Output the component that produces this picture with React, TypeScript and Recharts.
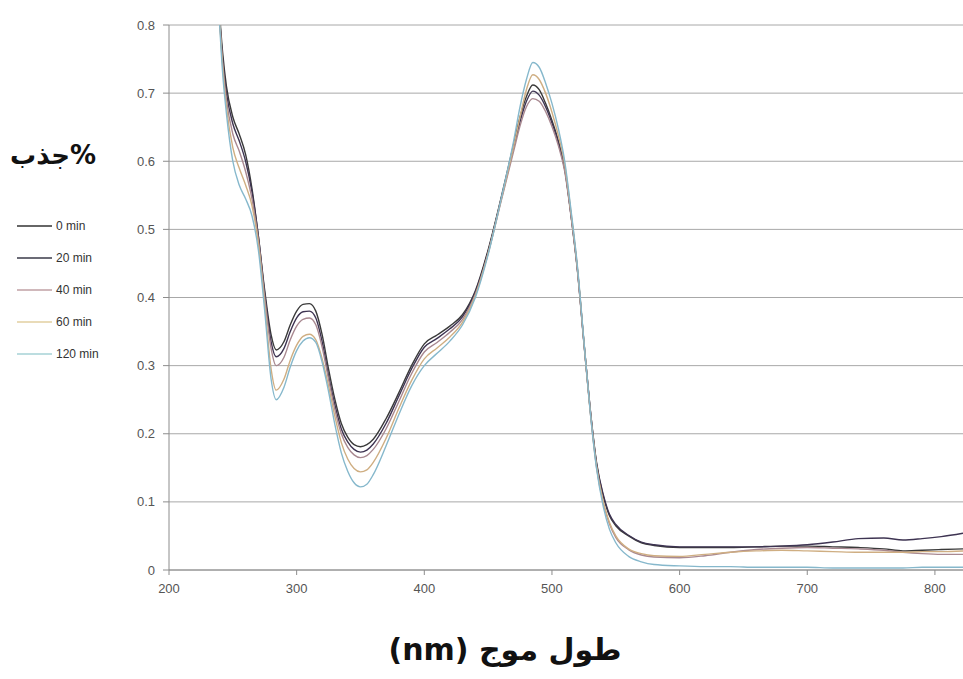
import React from "react";
import { LineChart, Line, XAxis, YAxis, CartesianGrid } from "recharts";

const wavelengths = [238, 242, 245, 250, 255, 260, 265, 270, 275, 280, 284, 290, 295, 300, 305, 310, 315, 320, 325, 330, 335, 340, 345, 350, 355, 360, 370, 380, 390, 400, 410, 420, 430, 440, 450, 460, 470, 475, 480, 485, 490, 495, 500, 505, 510, 515, 520, 525, 530, 535, 540, 545, 550, 560, 570, 580, 600, 620, 640, 660, 680, 700, 720, 740, 760, 775, 790, 805, 822];

const min0 = [0.86, 0.76, 0.71, 0.665, 0.64, 0.61, 0.56, 0.49, 0.41, 0.345, 0.323, 0.335, 0.36, 0.38, 0.39, 0.391, 0.38, 0.345, 0.295, 0.25, 0.215, 0.195, 0.184, 0.181, 0.184, 0.192, 0.222, 0.26, 0.3, 0.332, 0.345, 0.358, 0.375, 0.41, 0.47, 0.545, 0.625, 0.665, 0.695, 0.712, 0.705, 0.685, 0.66, 0.63, 0.59, 0.52, 0.44, 0.335, 0.235, 0.155, 0.11, 0.08, 0.065, 0.05, 0.04, 0.036, 0.033, 0.033, 0.033, 0.034, 0.035, 0.035, 0.034, 0.033, 0.031, 0.028, 0.029, 0.03, 0.031];

const min20 = [0.86, 0.75, 0.7, 0.655, 0.63, 0.6, 0.555, 0.49, 0.405, 0.335, 0.313, 0.325, 0.35, 0.37, 0.379, 0.38, 0.37, 0.335, 0.285, 0.242, 0.207, 0.188, 0.177, 0.173, 0.176, 0.185, 0.215, 0.255, 0.295, 0.327, 0.34, 0.354, 0.372, 0.408, 0.468, 0.543, 0.62, 0.658, 0.688, 0.703, 0.697, 0.68, 0.656, 0.627, 0.588, 0.52, 0.44, 0.335, 0.236, 0.157, 0.112, 0.082, 0.067, 0.051, 0.041, 0.037, 0.034, 0.034, 0.034, 0.034, 0.035, 0.037, 0.041, 0.046, 0.047, 0.044, 0.046, 0.049, 0.054];

const min40 = [0.86, 0.745, 0.69, 0.64, 0.615, 0.585, 0.545, 0.485, 0.4, 0.325, 0.3, 0.312, 0.338, 0.358, 0.368, 0.37, 0.36, 0.327, 0.28, 0.235, 0.2, 0.18, 0.169, 0.165, 0.168, 0.177, 0.207, 0.247, 0.288, 0.32, 0.334, 0.349, 0.368, 0.405, 0.465, 0.54, 0.615, 0.652, 0.68, 0.692, 0.688, 0.673, 0.651, 0.623, 0.585, 0.518, 0.438, 0.333, 0.232, 0.15, 0.1, 0.068, 0.048, 0.03, 0.022, 0.019, 0.018, 0.021, 0.026, 0.03, 0.032, 0.033, 0.032, 0.031, 0.029, 0.026, 0.024, 0.023, 0.023];

const min60 = [0.86, 0.74, 0.68, 0.62, 0.59, 0.565, 0.535, 0.48, 0.39, 0.295, 0.264, 0.28, 0.308, 0.33, 0.343, 0.346, 0.338, 0.31, 0.27, 0.225, 0.187, 0.163, 0.149, 0.144, 0.147, 0.158, 0.193, 0.237, 0.278, 0.31, 0.326, 0.342, 0.364, 0.403, 0.465, 0.542, 0.622, 0.665, 0.705, 0.727, 0.72, 0.7, 0.672, 0.638, 0.595, 0.524, 0.443, 0.336, 0.233, 0.152, 0.102, 0.07, 0.05, 0.031, 0.024, 0.021, 0.02, 0.023, 0.026, 0.028, 0.029, 0.028, 0.027, 0.026, 0.026, 0.026, 0.027, 0.027, 0.028];

const min120 = [0.86, 0.73, 0.67, 0.6, 0.565, 0.545, 0.52, 0.47, 0.38, 0.28, 0.25, 0.268, 0.298, 0.322, 0.336, 0.341, 0.334, 0.305, 0.262, 0.213, 0.172, 0.145, 0.128, 0.122, 0.126, 0.14, 0.182, 0.228, 0.27, 0.3, 0.318, 0.336, 0.36, 0.4, 0.463, 0.543, 0.63, 0.68, 0.72, 0.745, 0.738, 0.715, 0.685, 0.648, 0.6, 0.527, 0.445, 0.337, 0.232, 0.148, 0.095, 0.06, 0.04, 0.02, 0.012, 0.008, 0.006, 0.005, 0.005, 0.004, 0.004, 0.004, 0.003, 0.003, 0.003, 0.003, 0.004, 0.004, 0.004];

const seriesNames = ["0 min", "20 min", "40 min", "60 min", "120 min"];
const seriesKeys = ["m0", "m20", "m40", "m60", "m120"];
const seriesColors = ["#3a3a3a", "#3e3452", "#a88890", "#cfae82", "#86b8cc"];
const legendColors = ["#333333", "#3a3a48", "#c0a0a4", "#e2cfa0", "#a6d2d6"];

const xTicks = [200, 300, 400, 500, 600, 700, 800];
const yTicks = [0, 0.1, 0.2, 0.3, 0.4, 0.5, 0.6, 0.7, 0.8];

const yTitle = "جذب%";
const xTitle = "(nm) طول موج";

const allSeries = [min0, min20, min40, min60, min120];
const data = wavelengths.map((w, i) => {
  const row: Record<string, number> = { wl: w };
  seriesKeys.forEach((k, j) => {
    row[k] = allSeries[j][i];
  });
  return row;
});

const LegendBox = () => (
  <div
    style={{
      position: "absolute",
      left: 17,
      top: 210,
      fontFamily: "'Liberation Sans', Arial, sans-serif",
      fontSize: 12,
      color: "#333",
    }}
  >
    {seriesNames.map((n, i) => (
      <div key={n} style={{ display: "flex", alignItems: "center", height: 32 }}>
        <svg width={36} height={4} style={{ display: "block" }}>
          <line x1={0} y1={2} x2={35} y2={2} stroke={legendColors[i]} strokeWidth={1.4} />
        </svg>
        <span style={{ marginLeft: 3 }}>{n}</span>
      </div>
    ))}
  </div>
);

export default function App() {
  return (
    <div style={{ position: "absolute", left: 0, top: 0, width: 963, height: 679, background: "#fff" }}>
      <LineChart
        width={963}
        height={679}
        data={data}
        margin={{ top: 25, right: 0, bottom: 79, left: 109 }}
      >
        <CartesianGrid horizontal={true} vertical={false} stroke="#a8a8a8" strokeWidth={1} />
        <XAxis
          dataKey="wl"
          type="number"
          domain={[200, 822]}
          ticks={xTicks}
          allowDataOverflow
          height={30}
          stroke="#8c8c8c"
          tickSize={5}
          tickMargin={9}
          tick={{ fill: "#555", fontSize: 13, fontFamily: "'Liberation Sans', Arial, sans-serif" }}
        />
        <YAxis
          type="number"
          domain={[0, 0.8]}
          ticks={yTicks}
          allowDataOverflow
          width={60}
          stroke="#8c8c8c"
          tickSize={6}
          tickMargin={8}
          tick={{ fill: "#555", fontSize: 13, fontFamily: "'Liberation Sans', Arial, sans-serif" }}
        />
        {seriesKeys.map((k, i) => (
          <Line
            key={k}
            type="monotone"
            dataKey={k}
            name={seriesNames[i]}
            stroke={seriesColors[i]}
            strokeWidth={1.4}
            dot={false}
            isAnimationActive={false}
          />
        ))}
      </LineChart>
      <LegendBox />
      <div
        style={{
          position: "absolute",
          left: 10,
          top: 140,
          fontFamily: "'DejaVu Sans', sans-serif",
          fontWeight: "bold",
          fontSize: 26,
          color: "#111",
        }}
      >
        {yTitle}
      </div>
      <div
        style={{
          position: "absolute",
          left: 0,
          width: 1010,
          top: 632,
          textAlign: "center",
          fontFamily: "'DejaVu Sans', sans-serif",
          fontWeight: "bold",
          fontSize: 30,
          color: "#111",
        }}
      >
        {xTitle}
      </div>
    </div>
  );
}
